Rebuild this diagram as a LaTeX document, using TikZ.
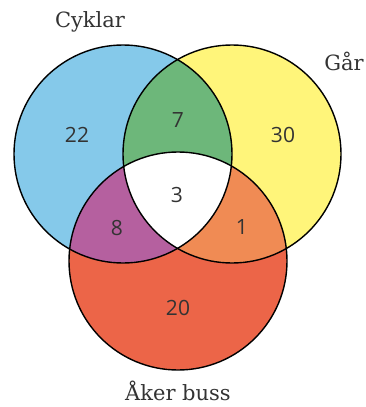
\documentclass[tikz,border=0pt]{standalone}
\usepackage{fontspec}
\usepackage{tikz}
\newfontfamily\labelfont{DejaVu Serif}
\newfontfamily\numfont{Open Sans}
\definecolor{bleu}{HTML}{85C9EA}
\definecolor{jaune}{HTML}{FFF57A}
\definecolor{rouge}{HTML}{EC6548}
\definecolor{vert}{HTML}{6DB77A}
\definecolor{violet}{HTML}{B5609F}
\definecolor{orange}{HTML}{F08B54}
\definecolor{texte}{HTML}{333333}

\begin{document}
\begin{tikzpicture}[x=1pt,y=-1pt,
  set/.style={font=\labelfont\fontsize{21}{25}\selectfont,text=texte,inner sep=1pt},
  count/.style={font=\numfont\fontsize{21}{25}\selectfont,text=texte}]
\useasboundingbox (0,0) rectangle (366,407);

% centres
\coordinate (c1) at (123,154);
\coordinate (c2) at (232,154);
\coordinate (c3) at (178,261);

% circles
\fill[bleu] (c1) circle (109pt);
\fill[jaune] (c2) circle (109pt);
\fill[rouge] (c3) circle (109pt);

% pairwise intersections
\begin{scope}
  \clip (c1) circle (109pt);
  \fill[vert] (c2) circle (109pt);
  \fill[violet] (c3) circle (109pt);
\end{scope}
\begin{scope}
  \clip (c2) circle (109pt);
  \fill[orange] (c3) circle (109pt);
\end{scope}
\begin{scope}
  \clip (c1) circle (109pt);
  \clip (c2) circle (109pt);
  \fill[white] (c3) circle (109pt);
\end{scope}

\draw[black,line width=1.4pt] (c1) circle (109pt);
\draw[black,line width=1.4pt] (c2) circle (109pt);
\draw[black,line width=1.4pt] (c3) circle (109pt);

% labels
\node[set] (cyk) at (90,22) {Cyklar};
\node[set] (gar) at (344,61) {Går};
\node[set] (buss) at (178,391) {Åker buss};

\node[count] (n1) at (77,135) {22};
\node[count] (n2) at (178,120) {7};
\node[count] (n3) at (283,135) {30};
\node[count] (n4) at (177,195) {3};
\node[count] (n5) at (117,228) {8};
\node[count] (n6) at (242,227) {1};
\node[count] (n7) at (178,308) {20};
\end{tikzpicture}
\end{document}
